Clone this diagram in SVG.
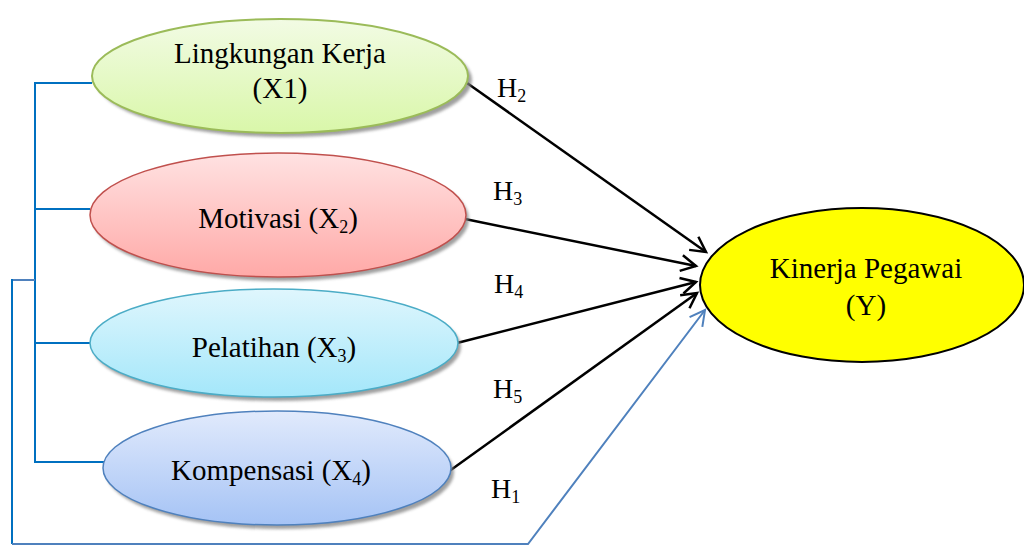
<svg xmlns="http://www.w3.org/2000/svg" width="1024" height="545" viewBox="0 0 1024 545">
<style>
.lbl{font-family:"Liberation Serif","Times New Roman",serif;font-size:29px;fill:#000;text-anchor:middle}
.h{font-family:"Liberation Serif","Times New Roman",serif;font-size:28px;fill:#000}
.sub{font-size:18px}
.blk{stroke:#000;stroke-width:2.5;fill:none}
.blu{stroke:#0070c0;stroke-width:2;fill:none}
.blu2{stroke:#4f81bd;stroke-width:2;fill:none}
.shadow{fill:#808080;opacity:0.75}
</style>
<defs>
<filter id="blur" x="-10%" y="-10%" width="120%" height="120%"><feGaussianBlur stdDeviation="1.5"/></filter>
<linearGradient id="gG" x1="0" y1="0" x2="0" y2="1"><stop offset="0" stop-color="#f2fbe4"/><stop offset="1" stop-color="#d9f7a9"/></linearGradient>
<linearGradient id="gR" x1="0" y1="0" x2="0" y2="1"><stop offset="0" stop-color="#ffe2e2"/><stop offset="1" stop-color="#ffa9a7"/></linearGradient>
<linearGradient id="gC" x1="0" y1="0" x2="0" y2="1"><stop offset="0" stop-color="#dff6fd"/><stop offset="1" stop-color="#a4e7fa"/></linearGradient>
<linearGradient id="gB" x1="0" y1="0" x2="0" y2="1"><stop offset="0" stop-color="#e1eafc"/><stop offset="1" stop-color="#a5c3f5"/></linearGradient>
<marker id="ah" markerUnits="userSpaceOnUse" markerWidth="24" markerHeight="24" viewBox="-20 -12 24 24" refX="0" refY="0" orient="auto">
<path d="M-15,-8 L0,0 L-15,8" fill="none" stroke="#000" stroke-width="2.5"/>
</marker>
<marker id="ahb" markerUnits="userSpaceOnUse" markerWidth="24" markerHeight="24" viewBox="-20 -12 24 24" refX="0" refY="0" orient="auto">
<path d="M-15,-8 L0,0 L-15,8" fill="none" stroke="#4f81bd" stroke-width="2"/>
</marker>
</defs>
<rect width="1024" height="545" fill="#fff"/>

<g id="connectors">
<path class="blu" d="M92,83 H35 V462 H104"/>
<path class="blu" d="M35,209 H90"/>
<path class="blu" d="M35,343 H90"/>
<path class="blu2" d="M35,280 H12"/>
<path class="blu" d="M12,279 V544"/>
<path class="blu2" d="M12,544 H528 L705,310" marker-end="url(#ahb)"/>
<line class="blk" x1="467" y1="83" x2="706" y2="252" marker-end="url(#ah)"/>
<line class="blk" x1="465" y1="219" x2="696" y2="266" marker-end="url(#ah)"/>
<line class="blk" x1="457" y1="343" x2="696" y2="282" marker-end="url(#ah)"/>
<line class="blk" x1="448" y1="472" x2="697" y2="293" marker-end="url(#ah)"/>
<text class="h" x="497" y="97">H<tspan class="sub" dy="5">2</tspan></text>
<text class="h" x="493" y="200">H<tspan class="sub" dy="5">3</tspan></text>
<text class="h" x="494" y="293">H<tspan class="sub" dy="5">4</tspan></text>
<text class="h" x="493" y="398">H<tspan class="sub" dy="5">5</tspan></text>
<text class="h" x="491" y="498">H<tspan class="sub" dy="5">1</tspan></text>
</g>

<g id="x1">
<ellipse class="shadow" cx="284" cy="80" rx="188" ry="57" filter="url(#blur)"/>
<ellipse cx="280" cy="76" rx="188" ry="57" fill="url(#gG)" stroke="#9bbb59" stroke-width="2"/>
<text class="lbl" x="280" y="63">Lingkungan Kerja</text>
<text class="lbl" x="280" y="98">(X1)</text>
</g>

<g id="x2">
<ellipse class="shadow" cx="281" cy="219" rx="188" ry="62" filter="url(#blur)"/>
<ellipse cx="278" cy="215" rx="188" ry="62" fill="url(#gR)" stroke="#c0504d" stroke-width="1.5"/>
<text class="lbl" x="278" y="228">Motivasi (X<tspan class="sub" dy="5">2</tspan><tspan dy="-5">)</tspan></text>
</g>

<g id="x3">
<ellipse class="shadow" cx="277" cy="347" rx="184" ry="54" filter="url(#blur)"/>
<ellipse cx="274" cy="343" rx="184" ry="54" fill="url(#gC)" stroke="#4bacc6" stroke-width="1.5"/>
<text class="lbl" x="274" y="357">Pelatihan (X<tspan class="sub" dy="5">3</tspan><tspan dy="-5">)</tspan></text>
</g>

<g id="x4">
<ellipse class="shadow" cx="280" cy="472" rx="174" ry="57" filter="url(#blur)"/>
<ellipse cx="277" cy="468" rx="174" ry="57" fill="url(#gB)" stroke="#4f81bd" stroke-width="1.5"/>
<text class="lbl" x="271" y="480">Kompensasi (X<tspan class="sub" dy="5">4</tspan><tspan dy="-5">)</tspan></text>
</g>

<g id="y">
<ellipse cx="862" cy="285" rx="162" ry="77" fill="#ffff00" stroke="#000" stroke-width="2"/>
<text class="lbl" x="866" y="278">Kinerja Pegawai</text>
<text class="lbl" x="866" y="315">(Y)</text>
</g>
</svg>
